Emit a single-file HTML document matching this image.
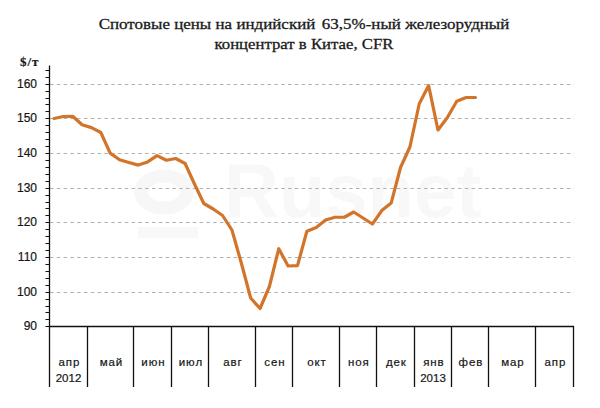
<!DOCTYPE html>
<html><head><meta charset="utf-8">
<style>
html,body{margin:0;padding:0;background:#fff;}
body{width:600px;height:408px;position:relative;overflow:hidden;font-family:"Liberation Sans",sans-serif;color:#161616;-webkit-text-stroke:0.2px #161616;}
.t{position:absolute;left:0;width:608px;transform-origin:304px 0;text-align:center;font-family:"Liberation Serif",serif;font-size:15.5px;color:#1a1a1a;-webkit-text-stroke:0.3px #1a1a1a;white-space:nowrap;line-height:16px;}
.unit{position:absolute;left:20px;top:54.5px;letter-spacing:1px;font-family:"Liberation Serif",serif;font-weight:bold;font-size:13px;line-height:14px;color:#1a1a1a;}
.yl{position:absolute;left:0;width:37px;text-align:right;font-size:12px;line-height:14px;}
.ml{position:absolute;top:354.8px;width:60px;letter-spacing:0.9px;padding-left:0.9px;text-align:center;font-size:11.5px;line-height:14px;}
.yr{position:absolute;top:370.8px;width:60px;text-align:center;font-size:11.5px;line-height:14px;}
svg{position:absolute;left:0;top:0;}
.wm{position:absolute;color:#f8f8f8;font-family:"Liberation Sans",sans-serif;font-weight:bold;-webkit-text-stroke:0;}
</style></head><body>
<div class="wm" style="left:224px;top:148px;font-size:76px;line-height:86px;">Rusnet</div>
<svg width="600" height="408" viewBox="0 0 600 408">
<ellipse cx="164" cy="192" rx="23" ry="16" fill="none" stroke="#f7f7f7" stroke-width="13"/><rect x="138" y="227" width="60" height="11" fill="#f8f8f8"/>
<line x1="50" y1="292.5" x2="574" y2="292.5" stroke="#b0b0b0" stroke-width="1" stroke-dasharray="3.5 3.3"/>
<line x1="50" y1="257.5" x2="574" y2="257.5" stroke="#b0b0b0" stroke-width="1" stroke-dasharray="3.5 3.3"/>
<line x1="50" y1="222.5" x2="574" y2="222.5" stroke="#b0b0b0" stroke-width="1" stroke-dasharray="3.5 3.3"/>
<line x1="50" y1="188.5" x2="574" y2="188.5" stroke="#b0b0b0" stroke-width="1" stroke-dasharray="3.5 3.3"/>
<line x1="50" y1="153.5" x2="574" y2="153.5" stroke="#b0b0b0" stroke-width="1" stroke-dasharray="3.5 3.3"/>
<line x1="50" y1="118.5" x2="574" y2="118.5" stroke="#b0b0b0" stroke-width="1" stroke-dasharray="3.5 3.3"/>
<line x1="50" y1="84.5" x2="574" y2="84.5" stroke="#b0b0b0" stroke-width="1" stroke-dasharray="3.5 3.3"/>
<line x1="45.5" y1="326.5" x2="49.5" y2="326.5" stroke="#111" stroke-width="1"/>
<line x1="45.5" y1="319.5" x2="49.5" y2="319.5" stroke="#111" stroke-width="1"/>
<line x1="45.5" y1="312.5" x2="49.5" y2="312.5" stroke="#111" stroke-width="1"/>
<line x1="45.5" y1="306.5" x2="49.5" y2="306.5" stroke="#111" stroke-width="1"/>
<line x1="45.5" y1="299.5" x2="49.5" y2="299.5" stroke="#111" stroke-width="1"/>
<line x1="45.5" y1="292.5" x2="49.5" y2="292.5" stroke="#111" stroke-width="1"/>
<line x1="45.5" y1="285.5" x2="49.5" y2="285.5" stroke="#111" stroke-width="1"/>
<line x1="45.5" y1="278.5" x2="49.5" y2="278.5" stroke="#111" stroke-width="1"/>
<line x1="45.5" y1="271.5" x2="49.5" y2="271.5" stroke="#111" stroke-width="1"/>
<line x1="45.5" y1="264.5" x2="49.5" y2="264.5" stroke="#111" stroke-width="1"/>
<line x1="45.5" y1="257.5" x2="49.5" y2="257.5" stroke="#111" stroke-width="1"/>
<line x1="45.5" y1="250.5" x2="49.5" y2="250.5" stroke="#111" stroke-width="1"/>
<line x1="45.5" y1="243.5" x2="49.5" y2="243.5" stroke="#111" stroke-width="1"/>
<line x1="45.5" y1="236.5" x2="49.5" y2="236.5" stroke="#111" stroke-width="1"/>
<line x1="45.5" y1="229.5" x2="49.5" y2="229.5" stroke="#111" stroke-width="1"/>
<line x1="45.5" y1="222.5" x2="49.5" y2="222.5" stroke="#111" stroke-width="1"/>
<line x1="45.5" y1="215.5" x2="49.5" y2="215.5" stroke="#111" stroke-width="1"/>
<line x1="45.5" y1="208.5" x2="49.5" y2="208.5" stroke="#111" stroke-width="1"/>
<line x1="45.5" y1="202.5" x2="49.5" y2="202.5" stroke="#111" stroke-width="1"/>
<line x1="45.5" y1="195.5" x2="49.5" y2="195.5" stroke="#111" stroke-width="1"/>
<line x1="45.5" y1="188.5" x2="49.5" y2="188.5" stroke="#111" stroke-width="1"/>
<line x1="45.5" y1="181.5" x2="49.5" y2="181.5" stroke="#111" stroke-width="1"/>
<line x1="45.5" y1="174.5" x2="49.5" y2="174.5" stroke="#111" stroke-width="1"/>
<line x1="45.5" y1="167.5" x2="49.5" y2="167.5" stroke="#111" stroke-width="1"/>
<line x1="45.5" y1="160.5" x2="49.5" y2="160.5" stroke="#111" stroke-width="1"/>
<line x1="45.5" y1="153.5" x2="49.5" y2="153.5" stroke="#111" stroke-width="1"/>
<line x1="45.5" y1="146.5" x2="49.5" y2="146.5" stroke="#111" stroke-width="1"/>
<line x1="45.5" y1="139.5" x2="49.5" y2="139.5" stroke="#111" stroke-width="1"/>
<line x1="45.5" y1="132.5" x2="49.5" y2="132.5" stroke="#111" stroke-width="1"/>
<line x1="45.5" y1="125.5" x2="49.5" y2="125.5" stroke="#111" stroke-width="1"/>
<line x1="45.5" y1="118.5" x2="49.5" y2="118.5" stroke="#111" stroke-width="1"/>
<line x1="45.5" y1="111.5" x2="49.5" y2="111.5" stroke="#111" stroke-width="1"/>
<line x1="45.5" y1="104.5" x2="49.5" y2="104.5" stroke="#111" stroke-width="1"/>
<line x1="45.5" y1="98.5" x2="49.5" y2="98.5" stroke="#111" stroke-width="1"/>
<line x1="45.5" y1="91.5" x2="49.5" y2="91.5" stroke="#111" stroke-width="1"/>
<line x1="45.5" y1="84.5" x2="49.5" y2="84.5" stroke="#111" stroke-width="1"/>
<line x1="45.5" y1="77.5" x2="49.5" y2="77.5" stroke="#111" stroke-width="1"/>
<line x1="45.5" y1="70.5" x2="49.5" y2="70.5" stroke="#111" stroke-width="1"/>
<line x1="49.5" y1="65.5" x2="49.5" y2="327" stroke="#111" stroke-width="1.3"/>
<line x1="49" y1="326.5" x2="574" y2="326.5" stroke="#111" stroke-width="1.3"/>
<line x1="49.5" y1="326" x2="49.5" y2="387" stroke="#111" stroke-width="1.3"/>
<line x1="87.5" y1="326" x2="87.5" y2="387" stroke="#111" stroke-width="1.3"/>
<line x1="133.5" y1="326" x2="133.5" y2="387" stroke="#111" stroke-width="1.3"/>
<line x1="171.5" y1="326" x2="171.5" y2="387" stroke="#111" stroke-width="1.3"/>
<line x1="208.5" y1="326" x2="208.5" y2="387" stroke="#111" stroke-width="1.3"/>
<line x1="255.5" y1="326" x2="255.5" y2="387" stroke="#111" stroke-width="1.3"/>
<line x1="292.5" y1="326" x2="292.5" y2="387" stroke="#111" stroke-width="1.3"/>
<line x1="339.5" y1="326" x2="339.5" y2="387" stroke="#111" stroke-width="1.3"/>
<line x1="376.5" y1="326" x2="376.5" y2="387" stroke="#111" stroke-width="1.3"/>
<line x1="414.5" y1="326" x2="414.5" y2="387" stroke="#111" stroke-width="1.3"/>
<line x1="451.5" y1="326" x2="451.5" y2="387" stroke="#111" stroke-width="1.3"/>
<line x1="488.5" y1="326" x2="488.5" y2="387" stroke="#111" stroke-width="1.3"/>
<line x1="535.5" y1="326" x2="535.5" y2="387" stroke="#111" stroke-width="1.3"/>
<line x1="573.5" y1="326" x2="573.5" y2="387" stroke="#111" stroke-width="1.3"/>
<polyline points="53.98,118.50 63.35,116.50 72.72,116.25 82.08,124.75 91.45,127.60 100.81,132.50 110.18,153.10 119.55,159.75 128.91,162.50 138.28,165.10 147.64,161.90 157.01,155.60 166.38,160.25 175.74,158.50 185.11,163.50 194.47,184.00 203.84,203.50 213.20,209.00 222.57,215.50 231.94,230.00 241.30,263.00 250.67,298.00 260.03,308.50 269.40,286.50 278.77,248.75 288.13,266.00 297.50,265.60 306.87,231.25 316.23,227.50 325.60,220.00 334.96,217.25 344.33,217.25 353.69,212.00 363.06,218.00 372.43,224.00 381.79,210.60 391.16,203.10 400.52,167.50 409.89,147.00 419.26,103.75 428.62,85.60 437.99,130.00 447.36,117.50 456.72,101.25 466.09,97.50 475.45,97.50" fill="none" stroke="#D2752A" stroke-width="3.2" stroke-linejoin="round" stroke-linecap="round"/>
</svg>
<div class="t" style="top:16px;transform:scaleX(1.095)">Спотовые цены на индийский<span style="letter-spacing:-1.8px">&nbsp;</span> 63,5%-ный железорудный</div>
<div class="t" style="top:35.5px;transform:scaleX(1.08)">концентрат в Китае, CFR</div>
<div class="unit">$/т</div>
<div class="yl" style="top:319.0px">90</div>
<div class="yl" style="top:285.0px">100</div>
<div class="yl" style="top:250.0px">110</div>
<div class="yl" style="top:215.0px">120</div>
<div class="yl" style="top:181.0px">130</div>
<div class="yl" style="top:146.0px">140</div>
<div class="yl" style="top:111.0px">150</div>
<div class="yl" style="top:77.0px">160</div>
<div class="ml" style="left:38.5px">апр</div>
<div class="ml" style="left:80.5px">май</div>
<div class="ml" style="left:122.5px">июн</div>
<div class="ml" style="left:160.0px">июл</div>
<div class="ml" style="left:202.0px">авг</div>
<div class="ml" style="left:244.0px">сен</div>
<div class="ml" style="left:286.0px">окт</div>
<div class="ml" style="left:328.0px">ноя</div>
<div class="ml" style="left:365.5px">дек</div>
<div class="ml" style="left:403.0px">янв</div>
<div class="ml" style="left:440.0px">фев</div>
<div class="ml" style="left:482.0px">мар</div>
<div class="ml" style="left:524.5px">апр</div>
<div class="yr" style="left:38.5px">2012</div>
<div class="yr" style="left:403.0px">2013</div>
</body></html>
